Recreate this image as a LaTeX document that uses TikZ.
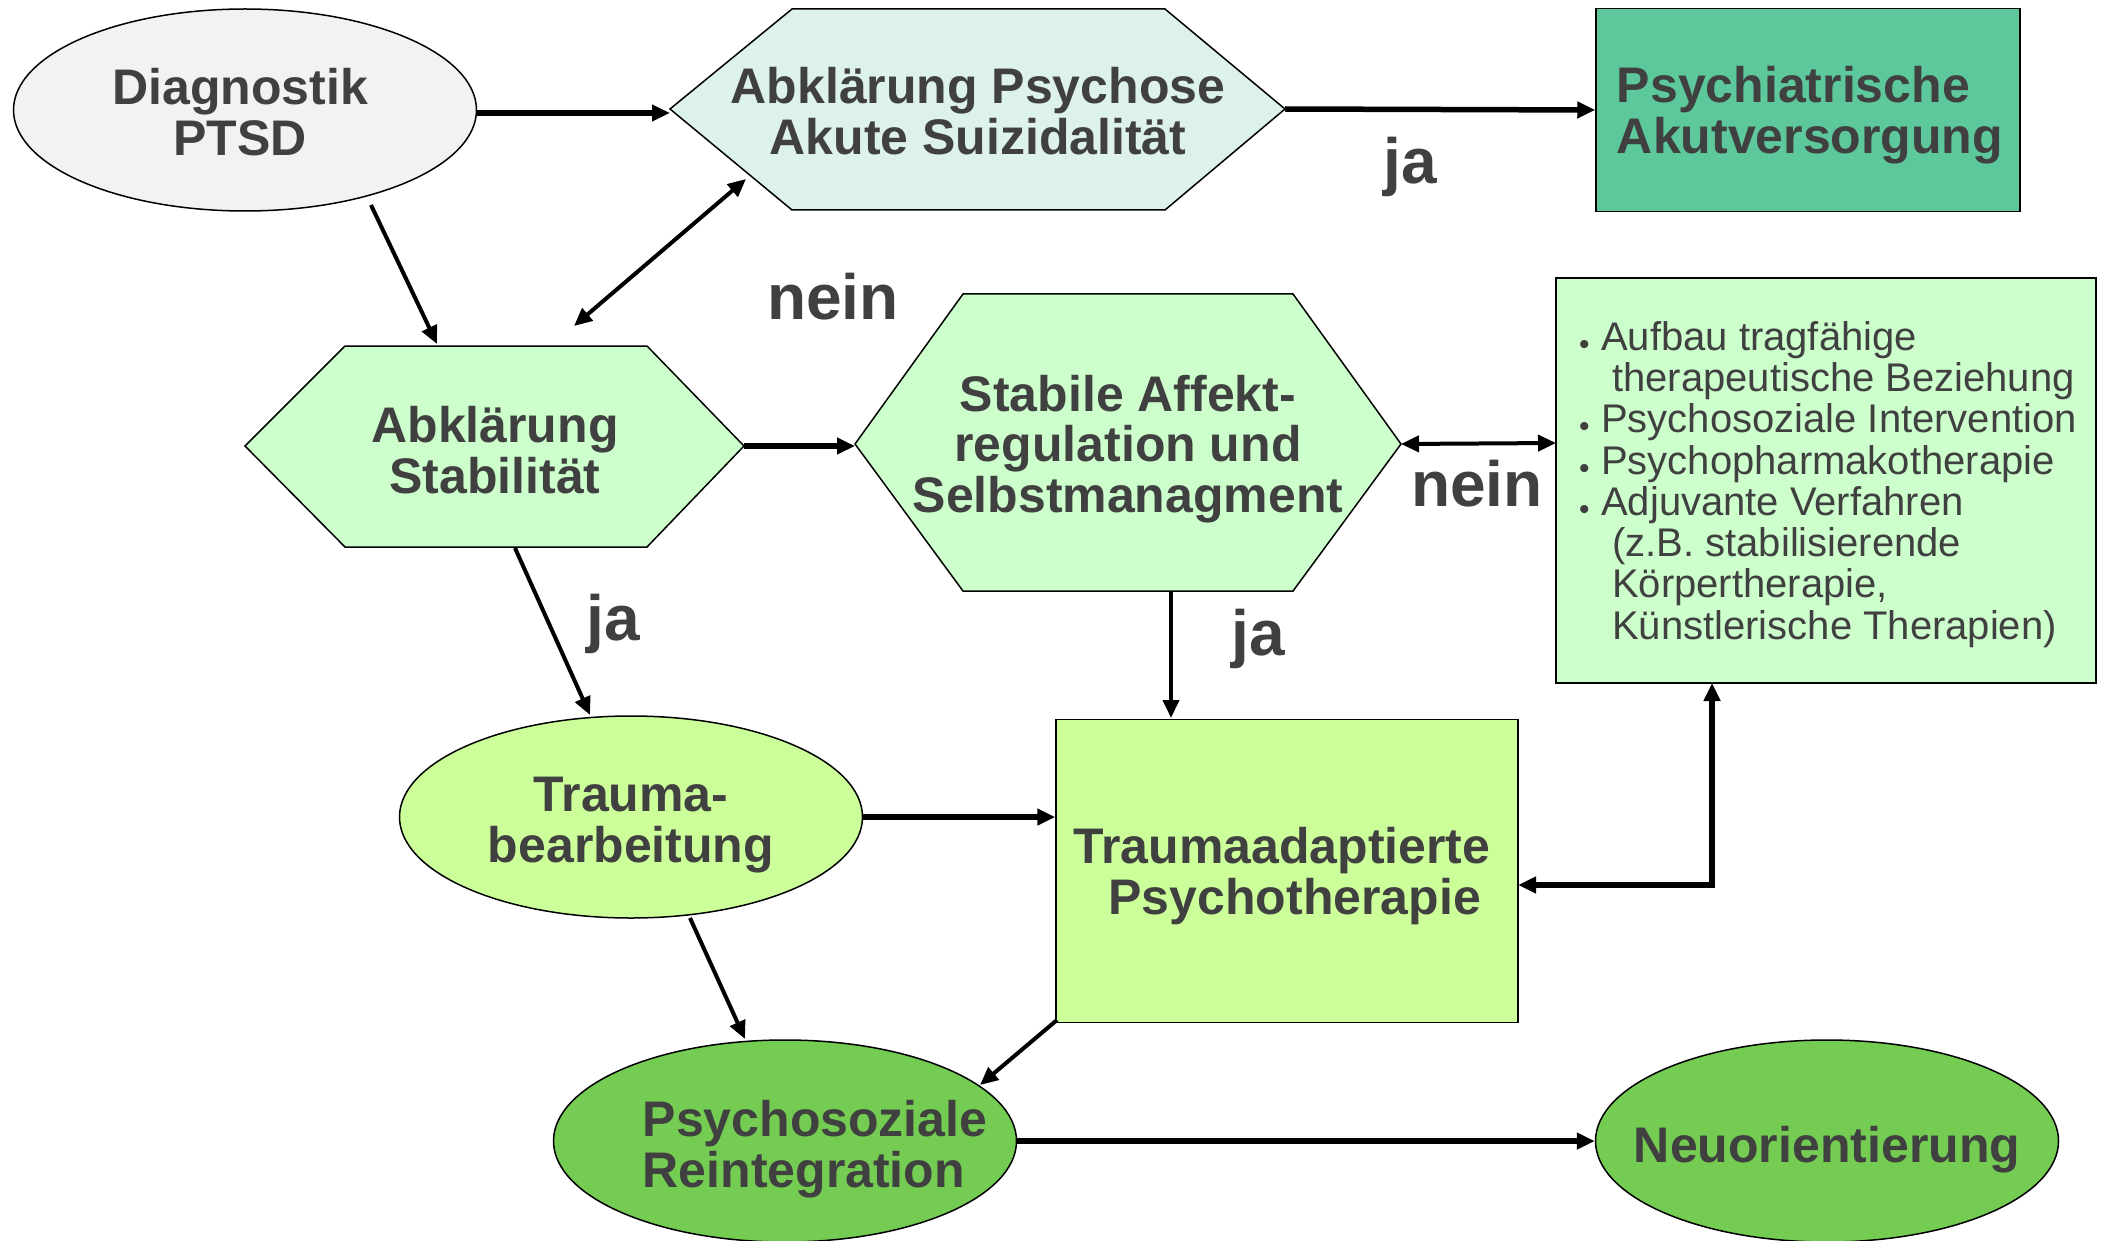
\documentclass[tikz,border=0pt]{standalone}
\usepackage{fontspec}
\setmainfont{Liberation Sans}
\usetikzlibrary{shapes.geometric,arrows.meta}
\definecolor{txt}{HTML}{404040}
\definecolor{cgray}{HTML}{F2F2F2}
\definecolor{cmint}{HTML}{DDF2E8}
\definecolor{cteal}{HTML}{5DC89B}
\definecolor{cpale}{HTML}{CCFFCC}
\definecolor{clime}{HTML}{CCFF99}
\definecolor{cgreen}{HTML}{74CC52}
\newcommand\bul{\makebox[22pt][l]{\raisebox{-4pt}{\fontsize{30}{30}\selectfont •}}}
\begin{document}
\begin{tikzpicture}[x=1pt,y=-1pt,
  tx/.style={text=txt,font=\fontsize{50}{50.5}\selectfont\bfseries,align=center,inner sep=0pt},
  lab/.style={text=txt,font=\fontsize{64}{64}\selectfont\bfseries,inner sep=0pt},
  shp/.style={draw=black,line width=1.5pt},
  ell/.style={shp,ellipse,inner sep=0pt,minimum width=463pt,minimum height=202pt},
  tip/.tip={Triangle[length=18pt,width=16pt]},
  arr/.style={-tip,line width=4pt},
  arrw/.style={-tip,line width=5.5pt},
  darr/.style={tip-tip,line width=4pt},
  darrw/.style={tip-tip,line width=5.5pt}]
\useasboundingbox (0,0) rectangle (2109,1241);

% ellipses
\node[ell,fill=cgray] (diag) at (245,110) {};
\node[tx] (diagT) at (240,112) {Diagnostik\\PTSD};
\node[ell,fill=clime] (trauma) at (631,817) {};
\node[tx] (traumaT) at (631,825) {Trauma-\\bearbeitung};
\node[ell,fill=cgreen] (reint) at (785,1141) {};
\node[tx,align=left] (reintT) at (815,1149) {Psychosoziale\\Reintegration};
\node[ell,fill=cgreen] (neu) at (1827,1141) {};
\node[tx] (neuT) at (1827,1150) {Neuorientierung};

% hexagon 1
\coordinate (h1l) at (670,109);
\coordinate (h1tl) at (792,9);
\coordinate (h1tr) at (1165,9);
\coordinate (h1r) at (1285,109);
\coordinate (h1br) at (1165,210);
\coordinate (h1bl) at (792,210);
\draw[shp,fill=cmint] (h1l)--(h1tl)--(h1tr)--(h1r)--(h1br)--(h1bl)--cycle;
\node[tx] (psy) at (978,111) {Abklärung Psychose\\Akute Suizidalität};

% hexagon 2
\coordinate (h2l) at (245,446);
\coordinate (h2tl) at (345,346);
\coordinate (h2tr) at (647,346);
\coordinate (h2r) at (744,446);
\coordinate (h2br) at (647,547);
\coordinate (h2bl) at (345,547);
\draw[shp,fill=cpale] (h2l)--(h2tl)--(h2tr)--(h2r)--(h2br)--(h2bl)--cycle;
\node[tx] (stab) at (495,450) {Abklärung\\Stabilität};

% hexagon 3
\coordinate (h3l) at (855,444);
\coordinate (h3tl) at (963,294);
\coordinate (h3tr) at (1293,294);
\coordinate (h3r) at (1401,444);
\coordinate (h3br) at (1293,591);
\coordinate (h3bl) at (963,591);
\draw[shp,fill=cpale] (h3l)--(h3tl)--(h3tr)--(h3r)--(h3br)--(h3bl)--cycle;
\node[tx] (affekt) at (1128,449) {Stabile Affekt-\\regulation und\\Selbstmanagment};

% boxes
\node[shp,rectangle,fill=cteal,minimum width=424pt,minimum height=203pt] (acute) at (1808,110) {};
\node[tx,align=left] (acuteT) at (1810,115) {Psychiatrische\\Akutversorgung};
\node[shp,rectangle,fill=clime,minimum width=462pt,minimum height=303pt] (tap) at (1287,871) {};
\node[tx,align=left] (tapT) at (1282,876) {Traumaadaptierte\\\hspace*{35pt}Psychotherapie};
\node[shp,rectangle,fill=cpale,minimum width=540pt,minimum height=405pt] (meas) at (1826,480.5) {};
\node[text=txt,font=\fontsize{40}{41.3}\selectfont,align=left,inner sep=0pt,anchor=north west] (measT) at (1579,321)
 {\bul Aufbau tragfähige\\
  \hspace*{33pt}therapeutische Beziehung\\
  \bul Psychosoziale Intervention\\
  \bul Psychopharmakotherapie\\
  \bul Adjuvante Verfahren\\
  \hspace*{33pt}(z.B. stabilisierende\\
  \hspace*{33pt}Körpertherapie,\\
  \hspace*{33pt}Künstlerische Therapien)};

% connectors
\coordinate (a1) at (371,205);
\coordinate (a2) at (437,344);
\coordinate (d1) at (746,179);
\coordinate (d2) at (574,326);
\coordinate (b1) at (515,548);
\coordinate (b2) at (590,715);
\coordinate (c1) at (1171,591);
\coordinate (c2) at (1171,718);
\coordinate (e1) at (690,918);
\coordinate (e2) at (745,1039);
\coordinate (f1) at (1057,1020);
\coordinate (f2) at (980,1085);
\coordinate (g1) at (1518,885);
\coordinate (g2) at (1712,885);
\coordinate (g3) at (1712,683);
\coordinate (m1) at (1556,443);

\draw[arrw] (diag.east |- 0,113) -- (h1l |- 0,113);
\draw[arrw] (h1r) -- (acute.west);
\draw[arr] (a1) -- (a2);
\draw[darr] (d1) -- (d2);
\draw[arrw] (h2r) -- (h3l |- h2r);
\draw[darr] (h3r) -- (m1);
\draw[arr] (b1) -- (b2);
\draw[arr] (c1) -- (c2);
\draw[arrw] (trauma.east) -- (tap.west |- trauma.east);
\draw[darrw] (g1) -- (g2) -- (g3);
\draw[arr] (e1) -- (e2);
\draw[arr] (f1) -- (f2);
\draw[arrw] (reint.east) -- (neu.west);

% labels
\node[lab] (ja1) at (1410,167) {ja};
\node[lab] (nein1) at (833,297) {nein};
\node[lab] (nein2) at (1477,484) {nein};
\node[lab] (ja2) at (613,624) {ja};
\node[lab] (ja3) at (1258,639) {ja};
\end{tikzpicture}
\end{document}
